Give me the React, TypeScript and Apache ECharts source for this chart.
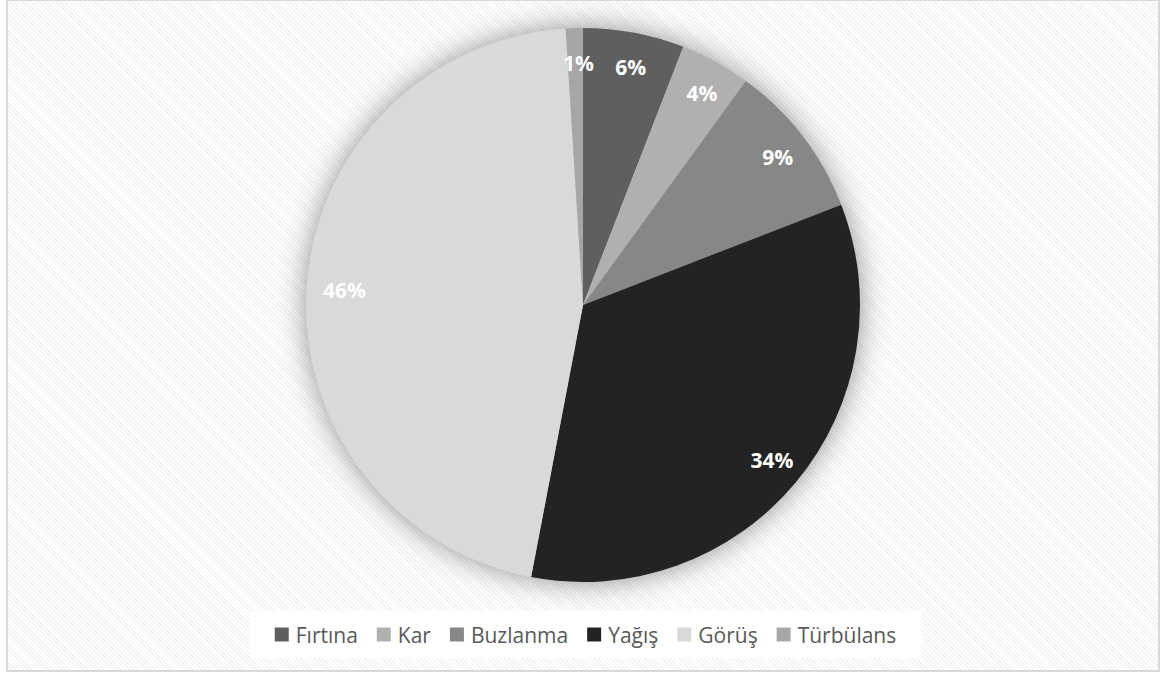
import React, { useEffect, useRef } from "react";
import * as echarts from "echarts";

const categories = ["Fırtına", "Kar", "Buzlanma", "Yağış", "Görüş", "Türbülans"];
const values = [5.9, 4.1, 9.1, 33.9, 46.0, 1.0];
const colors = ["#5f5f5f", "#b0b0b0", "#878787", "#232323", "#d9d9d9", "#a6a6a6"];

export default function App() {
  const ref = useRef<HTMLDivElement>(null);
  useEffect(() => {
    if (!ref.current) return;
    const chart = echarts.init(ref.current, undefined, { renderer: "svg" });
    const data = categories.map((name, i) => ({ name, value: values[i], itemStyle: { color: colors[i] } }));
    const total = values.reduce((a, b) => a + b, 0);
    chart.setOption({
      animation: false,
      backgroundColor: "transparent",
      legend: {
        bottom: 17,
        left: "center",
        data: categories,
        icon: "rect",
        itemWidth: 14,
        itemHeight: 14,
        itemGap: 19,
        backgroundColor: "#ffffff",
        padding: [13, 25, 13, 25],
        textStyle: { color: "#595959", fontSize: 21, fontFamily: "Open Sans", padding: [0, 0, 0, 2] },
        selectedMode: false,
      },
      series: [
        {
          type: "pie",
          z: 1,
          center: [583, 305],
          radius: [0, 276],
          silent: true,
          data: [{ name: "shadow", value: 1, itemStyle: { color: "#cccccc" } }],
          label: { show: false },
          labelLine: { show: false },
          itemStyle: { shadowBlur: 30, shadowColor: "rgba(0,0,0,0.45)" },
        },
        {
          type: "pie",
          z: 2,
          center: [583, 305],
          radius: [0, 277],
          startAngle: 90,
          clockwise: true,
          data,
          label: { show: false },
          labelLine: { show: false },
          silent: true,
          itemStyle: { borderWidth: 0 },
        },
        {
          type: "pie",
          z: 3,
          center: [583, 305],
          radius: [201, 277],
          startAngle: 90,
          clockwise: true,
          data: categories.map((name, i) => ({ name, value: values[i], itemStyle: { color: "rgba(0,0,0,0)" } })),
          silent: true,
          label: {
            show: true,
            position: "inside",
            color: "#ffffff",
            fontSize: 21,
            fontWeight: "bold",
            fontFamily: "Open Sans",
            offset: [3, 0],
            formatter: (p: any) => Math.round((p.value / total) * 100) + "%",
          },
          labelLine: { show: false },
        },
      ],
    });
    return () => chart.dispose();
  }, []);
  return (
    <div style={{ position: "fixed", left: 0, top: 0, width: 1171, height: 675, background: "#ffffff" }}>
      <div
        style={{
          position: "absolute",
          left: 6,
          top: -1,
          width: 1150,
          height: 669,
          border: "2px solid #d9d9d9",
          background: "repeating-linear-gradient(45deg, #ffffff 0px, #ffffff 1.8px, #f1f1f1 1.8px, #f1f1f1 3px)",
        }}
      />
      <div ref={ref} style={{ position: "absolute", left: 0, top: 0, width: 1171, height: 675 }} />
    </div>
  );
}
